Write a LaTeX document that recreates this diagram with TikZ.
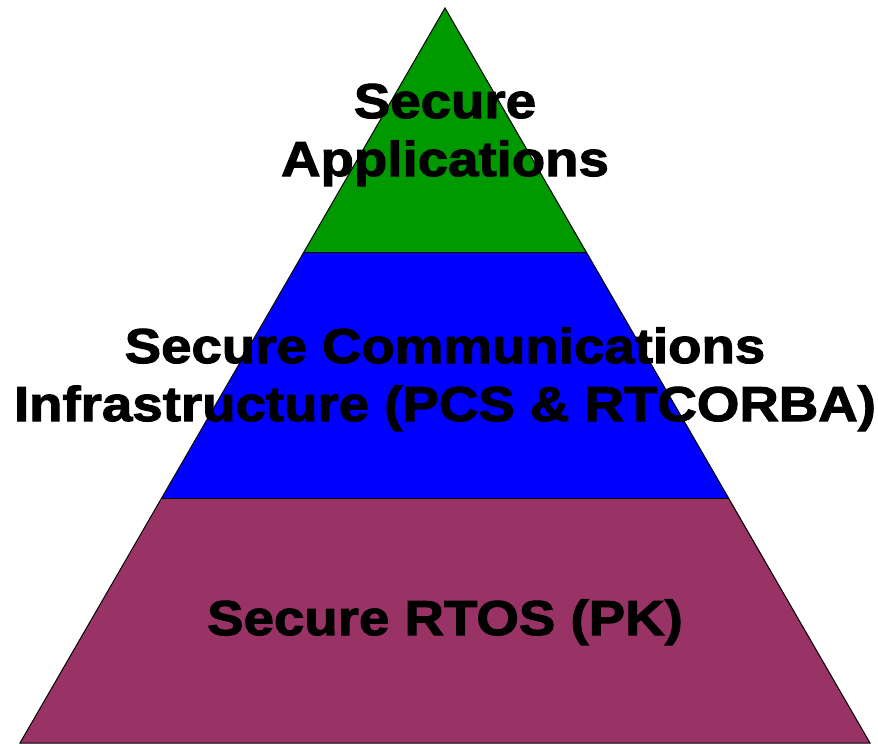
\documentclass[tikz,border=0pt]{standalone}
\usepackage{fontspec}
\setmainfont{Liberation Sans}
\newfontfamily\heavyfont{Liberation Sans Bold}[FakeBold=2.2, FakeStretch=1.115]
\definecolor{appgreen}{HTML}{009900}
\definecolor{commblue}{HTML}{0000FF}
\definecolor{rtosred}{HTML}{993366}
\tikzset{
  layer/.style={draw=black, line width=1pt, line join=miter},
  label/.style={font=\heavyfont\fontsize{49}{58}\selectfont, align=center, inner sep=0pt}
}
\begin{document}
\begin{tikzpicture}[x=1pt, y=-1pt]
    \useasboundingbox (0,0) rectangle (878,744);
    % corners of the pyramid and the layer edges
    \coordinate (apex) at (445,8);
    \coordinate (topl) at (304,252.5);
    \coordinate (topr) at (587,252.5);
    \coordinate (midl) at (162,498);
    \coordinate (midr) at (729,498);
    \coordinate (basel) at (20,743);
    \coordinate (baser) at (870,743);

    \fill[rtosred] (midl) -- (midr) -- (baser) -- (basel) -- cycle;
    \fill[commblue] (topl) -- (topr) -- (midr) -- (midl) -- cycle;
    \fill[appgreen] (apex) -- (topr) -- (topl) -- cycle;
    \draw[layer] (apex) -- (basel) -- (baser) -- cycle;
    \draw[layer] (topl) -- (topr);
    \draw[layer] (midl) -- (midr);

    % anchor=base sits on the last line
    \node[label, anchor=base] (apps) at (445,176) {Secure\\Applications};
    \node[label, anchor=base] (comms) at (445,421) {Secure Communications\\Infrastructure (PCS \& RTCORBA)};
    \node[label, anchor=base] (rtos) at (445,635) {Secure RTOS (PK)};
\end{tikzpicture}
\end{document}
